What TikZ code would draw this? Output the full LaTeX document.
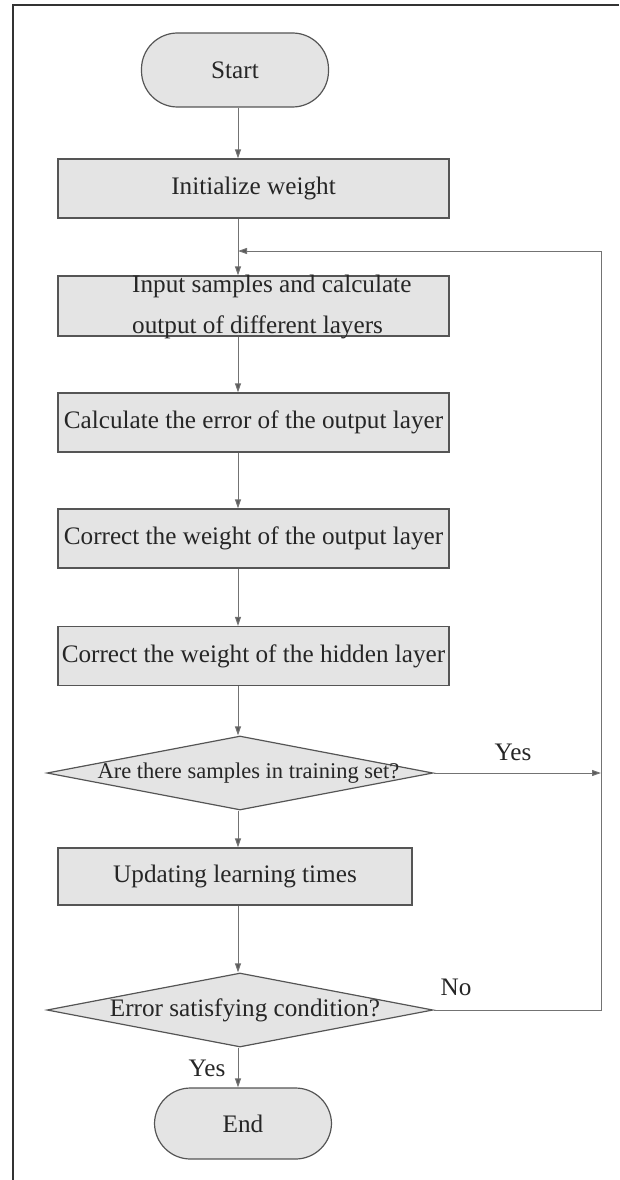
\documentclass[tikz,border=0pt]{standalone}
\usepackage{fontspec}
\setmainfont{Liberation Serif}
\usetikzlibrary{arrows.meta,calc,positioning}
\usetikzlibrary{shapes.geometric}

\definecolor{boxfill}{RGB}{228,228,228}
\definecolor{boxline}{RGB}{85,85,85}
\definecolor{arrline}{RGB}{115,115,115}

\begin{document}
\begin{tikzpicture}[x=1pt,y=-1pt,
every node/.style={font=\fontsize{25.2}{30}\selectfont,text=black!85},
proc/.style={rectangle,draw=boxline,fill=boxfill,line width=1.2pt,minimum width=391pt,minimum height=59pt,inner sep=0pt},
term/.style={rectangle,rounded corners=36pt,draw=boxline,fill=boxfill,line width=1.2pt,minimum height=74pt,inner sep=0pt},
test/.style={diamond,draw=boxline,fill=boxfill,line width=1.2pt,minimum width=386pt,minimum height=74pt,inner sep=0pt},
flow/.style={draw=arrline,line width=1pt,-{Triangle[length=9pt,width=6pt,fill=black!65]}}]
\useasboundingbox (0,0) rectangle (619,1180);
\draw[line width=2pt,black!80] (619,5) -- (13,5) -- (13,1181);

\node[term,minimum width=187pt] (start) at (235,70) {Start};
\node[proc] (init) at (253.5,188.5) {Initialize weight};
\node[proc,minimum height=60pt] (input) at (253.5,306) {};
\node[anchor=base west,inner sep=0pt] (in1) at (132,292) {Input samples and calculate};
\node[anchor=base west,inner sep=0pt] (in2) at (132,333) {output of different layers};
\node[proc] (calc) at (253.5,422.5) {Calculate the error of the output layer};
\node[proc] (corrout) at (253.5,538.5) {Correct the weight of the output layer};
\node[proc] (corrhid) at (253.5,656) {Correct the weight of the hidden layer};
\node[test] (q1) at (240,773) {};
\node[font=\fontsize{22.5}{27}\selectfont] (q1txt) at (248.5,773) {Are there samples in training set?};
\node[proc,minimum width=354pt,minimum height=57pt] (upd) at (235,876.5) {Updating learning times};
\node[test] (q2) at (240,1010) {};
\node (q2txt) at (245,1010) {Error satisfying condition?};
\node[term,minimum width=177pt,minimum height=71pt] (stop) at (243,1123.5) {End};

\node (yes1) at (513,752) {Yes};
\node (no) at (456,987) {No};
\node (yes2) at (207,1068) {Yes};

\coordinate (col) at (238,0);
\coordinate (rt) at (601,251);
\coordinate (jn) at (238,251);

\draw[flow] (start.south -| col) -- (init.north -| col);
\draw[flow] (init.south -| col) -- (input.north -| col);
\draw[flow] (input.south -| col) -- (calc.north -| col);
\draw[flow] (calc.south -| col) -- (corrout.north -| col);
\draw[flow] (corrout.south -| col) -- (corrhid.north -| col);
\draw[flow] (corrhid.south -| col) -- (q1.north -| col);
\draw[flow] (q1.south -| col) -- (upd.north -| col);
\draw[flow] (upd.south -| col) -- (q2.north -| col);
\draw[flow] (q2.south -| col) -- (stop.north -| col);
\draw[flow] (q1.east) -- (q1.east -| rt);
\draw[flow] (q2.east) -- (q2.east -| rt) -- (rt) -- (jn);
\end{tikzpicture}
\end{document}
